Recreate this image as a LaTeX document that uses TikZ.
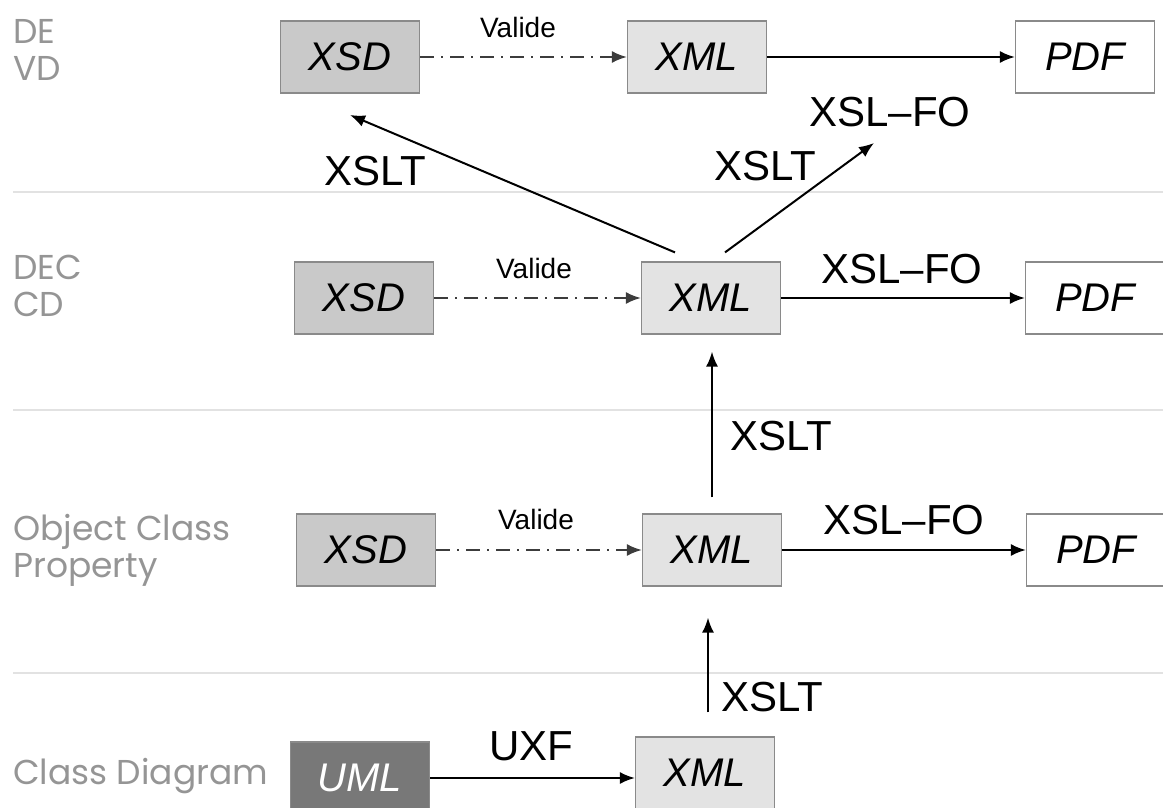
\documentclass[tikz,border=0pt]{standalone}
\usepackage{fontspec}
\setmainfont{Liberation Sans}
\newfontfamily\rowfont{Poppins}
\usepackage{tikz}
\usetikzlibrary{arrows.meta}
\definecolor{boxline}{HTML}{8A8A8A}
\definecolor{xsdfill}{HTML}{C9C9C9}
\definecolor{xmlfill}{HTML}{E3E3E3}
\definecolor{umlfill}{HTML}{787878}
\definecolor{rowgray}{HTML}{959595}
\definecolor{sepgray}{HTML}{E2E2E2}
\definecolor{dashgray}{HTML}{3C3C3C}

\begin{document}
\begin{tikzpicture}[x=1pt, y=-1pt,
	box/.style={draw=boxline, line width=1.2pt, minimum width=139pt, minimum height=72pt, inner sep=0pt, font=\fontsize{40}{40}\selectfont\itshape},
	xsd/.style={box, fill=xsdfill},
	xml/.style={box, fill=xmlfill},
	pdf/.style={box, fill=white},
	uml/.style={box, fill=umlfill, text=white},
	rowlabel/.style={anchor=west, align=left, inner sep=0pt, text=rowgray, font=\rowfont\fontsize{34.5}{37}\selectfont},
	big/.style={font=\fontsize{42}{42}\selectfont, inner sep=0pt},
	small/.style={font=\fontsize{28}{28}\selectfont, inner sep=0pt},
	flow/.style={-{Latex[length=15pt, width=12pt]}, line width=2pt},
	valid/.style={flow, dashgray, dash pattern=on 14pt off 7pt on 2pt off 7pt}]
	\useasboundingbox (0,0) rectangle (1163,808);

	\draw[sepgray, line width=1.5pt] (13,192) -- (1163,192);
	\draw[sepgray, line width=1.5pt] (13,410) -- (1163,410);
	\draw[sepgray, line width=1.5pt] (13,673) -- (1163,673);

	\node[rowlabel] (rowA) at (13,50) {DE\\VD};
	\node[rowlabel] (rowB) at (13,286) {DEC\\CD};
	\node[rowlabel] (rowC) at (13,550) {Object Class\\Property};
	\node[rowlabel] (rowD) at (13,776) {Class Diagram};

	\node[xsd] (xsdA) at (350,57) {XSD};
	\node[xml] (xmlA) at (697,57) {XML};
	\node[pdf] (pdfA) at (1085,57) {PDF};

	\node[xsd] (xsdB) at (364,298) {XSD};
	\node[xml] (xmlB) at (711,298) {XML};
	\node[pdf] (pdfB) at (1095,298) {PDF};

	\node[xsd] (xsdC) at (366,550) {XSD};
	\node[xml] (xmlC) at (712,550) {XML};
	\node[pdf] (pdfC) at (1096,550) {PDF};

	\node[uml] (uml) at (360,778) {UML};
	\node[xml] (xmlD) at (705,773) {XML};

	\coordinate (tipXsd) at (350,115);
	\coordinate (tipFo) at (874,143);

	\draw[valid] (xsdA) -- (xmlA);
	\draw[flow] (xmlA) -- (pdfA);
	\draw[valid] (xsdB) -- (xmlB);
	\draw[flow] (xmlB) -- (pdfB);
	\draw[valid] (xsdC) -- (xmlC);
	\draw[flow] (xmlC) -- (pdfC);
	\draw[flow] (uml) -- (uml -| xmlD.west);

	\draw[flow, shorten <=24pt, shorten >=31pt] ([xshift=3pt]xmlD.north) -- ([xshift=3pt]xmlD.north |- xmlC.south);
	\draw[flow, shorten <=16pt, shorten >=17pt] (xmlC.north) -- (xmlC.north |- xmlB.south);
	\draw[flow] ([xshift=-36pt, yshift=9pt]xmlB.north) -- (tipXsd);
	\draw[flow] ([xshift=14pt, yshift=9pt]xmlB.north) -- (tipFo);

	\node[small] (valA) at (518,27) {Valide};
	\node[small] (valB) at (534,268) {Valide};
	\node[small] (valC) at (536,519) {Valide};
	\node[big] (foA) at (890,112) {XSL--FO};
	\node[big] (foB) at (902,269) {XSL--FO};
	\node[big] (foC) at (904,520) {XSL--FO};
	\node[big] (xsltA) at (375,171) {XSLT};
	\node[big] (xsltB) at (765,166) {XSLT};
	\node[big] (xsltC) at (781,436) {XSLT};
	\node[big] (xsltD) at (772,697) {XSLT};
	\node[big] (uxf) at (531,746) {UXF};
\end{tikzpicture}
\end{document}
